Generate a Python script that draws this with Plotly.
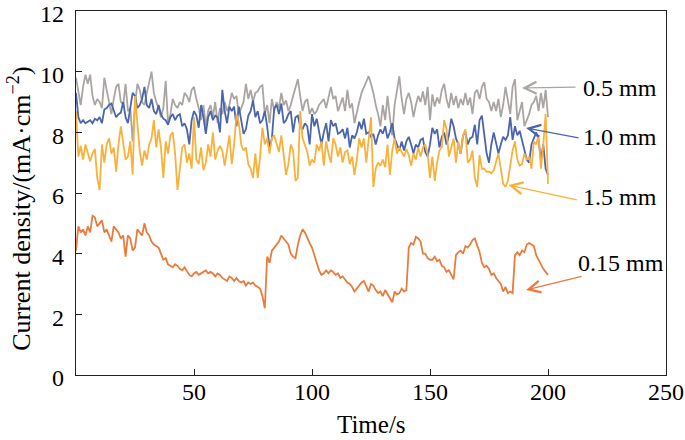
import plotly.graph_objects as go

time_s = list(range(0, 201))

# 0.5 mm (gray)
cd_05 = [
    9.8, 9.3, 8.9, 9.5, 9.9, 9.6, 9.9, 9.2, 8.9, 9.1,
    9.0, 8.8, 9.8, 9.4, 9.0, 8.6, 9.1, 9.5, 9.6, 9.0,
    8.9, 9.6, 8.7, 8.8, 7.7, 8.9, 9.6, 9.4, 9.0, 8.9,
    9.3, 9.7, 10.0, 9.3, 9.0, 8.8, 8.5, 8.8, 9.7, 8.3,
    8.6, 9.1, 8.9, 8.8, 9.0, 8.9, 9.3, 9.2, 9.0, 9.4,
    9.5, 9.1, 8.8, 8.4, 8.9, 8.2, 8.7, 8.9, 8.5, 9.0,
    8.3, 8.8, 8.6, 9.0, 8.7, 8.9, 9.3, 9.1, 9.2, 8.6,
    8.8, 9.0, 9.6, 9.1, 9.4, 9.0, 9.3, 9.35, 9.5, 9.55,
    8.6, 8.9, 8.3, 9.1, 8.7, 9.0, 8.8, 9.3, 8.9, 9.05,
    8.7, 8.9, 9.2, 9.5, 9.75, 9.2, 8.7, 9.0, 9.1, 8.6,
    8.8,
    8.6, 8.7, 8.9, 9.0, 9.1, 8.8, 9.2, 9.5, 9.1, 9.2,
    8.7, 8.9, 9.15, 8.7, 9.4, 8.8, 8.95, 8.3, 8.7, 9.0,
    9.3, 9.5, 9.7, 9.85, 9.6, 9.3, 8.9, 8.6, 8.2, 8.9,
    8.4, 9.2, 8.5, 7.9, 8.9, 9.4, 9.85, 9.1, 8.6, 9.1,
    9.3, 9.0, 8.5, 8.9, 9.2, 9.0, 9.35, 8.9, 9.5, 8.4,
    9.25, 8.85, 9.15, 8.95, 9.4, 9.6, 9.1, 8.8, 9.3, 8.9,
    9.2, 8.8, 9.1, 8.9, 9.3, 8.9, 9.15, 8.6, 9.3, 9.4,
    9.1, 9.5, 9.65, 9.1, 9.0, 8.7, 9.0, 8.7, 9.1, 8.5,
    8.9, 9.5, 9.0, 8.6, 9.5, 9.75, 8.4, 8.7, 9.0, 8.2,
    8.4, 8.6, 8.9, 9.0, 9.2, 8.7, 9.3, 8.8, 9.4, 8.5,
]

# 1.0 mm (blue)
cd_10 = [
    9.3, 8.5, 8.3, 8.4, 8.3, 8.35, 8.4, 8.3, 8.45, 8.4,
    8.5, 8.3, 8.75, 8.8, 8.9, 8.95, 8.7, 8.5, 8.6, 8.65,
    9.0, 8.5, 8.3, 8.8, 9.3, 9.2, 8.8, 8.9, 9.1, 9.5,
    8.9, 8.8, 9.1, 8.7, 8.6, 8.9, 8.6, 8.45, 8.4, 8.25,
    8.5, 8.6, 8.4, 8.55, 8.6, 8.2, 8.3, 8.1, 7.6, 8.4,
    8.7, 8.55, 8.15, 8.9, 8.5, 7.95, 8.5, 8.7, 8.4, 8.55,
    8.5, 8.0, 9.4, 8.7, 8.3, 8.85, 8.7, 8.85, 8.2, 8.85,
    8.4, 7.95, 8.1, 8.55, 8.7, 9.05, 8.5, 8.7, 8.3, 8.4,
    8.7, 8.2, 7.5, 7.8, 8.8, 8.9, 8.6, 8.95, 8.3, 8.4,
    8.6, 8.7, 8.0, 8.5, 8.55, 8.2, 8.1, 8.3, 8.2, 7.6,
    8.6,
    8.2, 8.45, 8.05, 7.6, 8.0, 8.3, 7.7, 8.4, 8.2, 8.3,
    7.95, 8.0, 8.1, 7.8, 8.15, 7.5, 7.9, 7.8, 8.0, 8.35,
    8.1, 8.45, 7.95, 8.0, 7.85, 7.95, 7.6, 7.9, 8.1, 7.95,
    8.2, 7.8, 8.0, 8.3, 7.8, 7.6, 7.4, 7.7, 7.4, 7.7,
    7.85, 7.6, 7.3, 7.6, 7.5, 7.75, 7.8, 7.35, 7.2, 7.6,
    8.15, 7.95, 8.1, 7.5, 7.85, 8.0, 7.6, 7.9, 8.45, 8.2,
    7.8, 7.6, 7.3, 7.9, 8.0, 7.6, 7.8, 7.85, 8.25, 7.6,
    8.4, 8.55, 7.9, 7.3, 7.0, 7.6, 8.0, 7.65, 7.3, 7.6,
    7.85, 7.75, 7.9, 8.5, 7.75, 8.2, 7.9, 8.05, 7.7, 7.4,
    7.1, 7.0, 7.6, 7.8, 8.0, 7.75, 7.1, 7.6, 6.8, 6.6,
]

# 1.5 mm (yellow)
cd_15 = [
    8.7, 7.2, 7.55, 7.1, 7.6, 7.3, 7.05, 7.3, 7.45, 6.5,
    6.1, 7.6, 7.0, 7.6, 7.8, 7.3, 7.5, 6.7, 7.6, 8.2,
    7.7, 7.1, 7.2, 7.7, 6.6, 9.2, 8.3, 7.4, 6.9, 7.4,
    7.1, 7.6, 7.8, 8.4, 7.5, 8.1, 7.5, 6.5, 7.7, 7.3,
    7.9, 8.0, 7.3, 6.1, 6.8, 7.5, 7.6, 7.0, 7.3, 6.8,
    8.5, 7.1, 6.95, 7.5, 6.75, 7.0, 7.6, 7.2, 8.0, 7.1,
    7.4, 7.55, 7.4, 6.9, 7.4, 7.9, 6.95, 7.6, 8.6, 8.3,
    7.6, 7.4, 7.5, 6.95, 6.8, 6.5, 7.3, 6.5, 7.2, 8.15,
    7.6, 7.8, 7.3, 7.8, 7.9, 7.6, 7.35, 7.9, 7.3, 6.6,
    6.95, 7.6, 7.4, 6.4, 6.5, 8.7, 7.8, 7.6, 7.35, 6.9,
    7.1,
    7.0, 7.6, 7.4, 7.7, 6.9, 7.7, 7.3, 7.0, 7.8, 7.6,
    7.2, 7.5, 7.0, 7.35, 7.4, 6.95, 7.2, 6.6, 7.1, 7.8,
    7.5, 7.8, 7.0, 7.75, 8.5, 6.2, 6.8, 7.0, 6.9, 7.1,
    6.85, 7.6, 6.6, 7.4, 7.8, 7.3, 7.5, 7.35, 7.2, 7.45,
    7.25, 6.9, 7.3, 7.1, 7.5, 7.2, 7.5, 7.6, 7.3, 6.5,
    7.2, 6.4, 7.0, 7.4, 7.5, 8.4, 8.1, 7.2, 7.5, 7.8,
    7.0, 7.7, 7.3, 7.9, 8.1, 7.0, 7.1, 7.4, 6.5, 6.2,
    7.25, 6.8, 6.8, 6.7, 6.7, 6.65, 6.75, 7.0, 7.3, 6.8,
    6.3, 6.2, 6.4, 6.9, 7.4, 7.7, 7.1, 6.9, 6.95, 7.3,
    7.1, 7.2, 6.8, 7.7, 7.6, 7.9, 6.8, 7.6, 8.6, 6.3,
]

# 0.15 mm (orange)
cd_015 = [
    4.1, 4.9, 4.7, 4.8, 4.6, 4.9, 4.7, 5.25, 5.2, 4.9,
    5.0, 5.1, 4.7, 4.8, 4.6, 4.4, 4.9, 4.8, 4.7, 4.5,
    4.6, 3.9, 4.6, 4.5, 4.1, 4.2, 4.8, 4.7, 4.6, 5.0,
    4.7, 4.6, 4.4, 4.3, 4.25, 4.2, 4.0, 3.8, 3.85, 3.65,
    3.6, 3.55, 3.65, 3.6, 3.5, 3.45, 3.55, 3.4, 3.3, 3.25,
    3.35, 3.4, 3.3, 3.35, 3.4, 3.45, 3.35, 3.4, 3.35, 3.25,
    3.35, 3.3, 3.2, 3.15, 3.1, 3.25, 3.2, 3.1, 3.2, 3.1,
    3.05, 3.1, 2.95, 3.05, 3.0, 3.05, 2.95, 2.9, 2.85, 2.6,
    2.2, 3.9, 3.7, 4.1, 4.2, 4.3, 4.4, 4.6, 4.5, 4.4,
    4.3, 4.0, 3.9, 3.85, 4.3, 4.6, 4.8, 4.7, 4.5, 4.35,
    4.2,
    3.95, 3.7, 3.45, 3.3, 3.35, 3.45, 3.35, 3.45, 3.4, 3.3,
    3.35, 3.2, 3.25, 3.15, 3.05, 3.0, 2.9, 2.75, 2.85, 2.95,
    3.05, 3.1, 2.95, 2.75, 3.0, 2.95, 2.8, 2.7, 2.75, 2.6,
    2.8, 2.65, 2.5, 2.4, 2.75, 2.65, 2.7, 2.85, 2.75, 2.8,
    4.2, 4.35, 4.3, 4.55, 4.5, 4.4, 4.0, 4.0, 3.85, 3.8,
    3.8, 3.9, 3.75, 3.8, 3.6, 3.55, 3.4, 3.45, 3.3, 3.15,
    3.95, 4.05, 4.1, 4.0, 4.25, 4.2, 4.3, 4.45, 4.5, 4.3,
    4.05, 3.7, 3.55, 3.6, 3.5, 3.3, 3.35, 3.2, 3.1, 3.0,
    2.75, 2.9, 2.7, 2.75, 2.7, 3.95, 4.05, 3.95, 4.1, 4.05,
    4.3, 4.35, 4.3, 4.25, 3.95, 3.8, 3.6, 3.5, 3.4, 3.3,
]

series_names = ["0.5 mm", "1.0 mm", "1.5 mm", "0.15 mm"]
series_values = [cd_05, cd_10, cd_15, cd_015]
series_colors = ["#aaa5a2", "#4a65ae", "#f9b13c", "#e97b3d"]

x_ticks = [50, 100, 150, 200, 250]
y_ticks = [0, 2, 4, 6, 8, 10, 12]

# label placement (data coords) and arrow tips (data coords) + tail offsets (px)
label_pos = {"0.5 mm": (214, 9.47), "1.0 mm": (214, 7.86), "1.5 mm": (214, 5.87), "0.15 mm": (212, 3.69)}
arrow_tip = {"0.5 mm": (189.0, 9.46), "1.0 mm": (190.7, 8.14), "1.5 mm": (183.2, 6.26), "0.15 mm": (190.7, 2.80)}
arrow_off = {"0.5 mm": (55, -1), "1.0 mm": (54, 10), "1.5 mm": (70, 15), "0.15 mm": (57, -14)}

FONT = "Liberation Serif"

fig = go.Figure()
for name, vals, color in zip(series_names, series_values, series_colors):
    fig.add_trace(go.Scatter(x=time_s, y=vals, mode="lines", name=name,
                             line=dict(color=color, width=1.8), showlegend=False))

annotations = []
for name, color in zip(series_names, series_colors):
    lx, ly = label_pos[name]
    annotations.append(dict(x=lx, y=ly, xref="x", yref="y", text=name, showarrow=False,
                            xanchor="left", yanchor="middle",
                            font=dict(family=FONT, size=24, color="black")))
    tx, ty = arrow_tip[name]
    ax, ay = arrow_off[name]
    annotations.append(dict(x=tx, y=ty, xref="x", yref="y", text="", showarrow=True,
                            ax=ax, ay=ay, arrowhead=5, arrowsize=1.8, arrowwidth=1.3,
                            arrowcolor=color))

annotations.append(dict(x=0.5, y=-0.137, xref="paper", yref="paper", text="Time/s",
                        showarrow=False, xanchor="center", yanchor="middle",
                        font=dict(family=FONT, size=25, color="black")))
annotations.append(dict(x=-0.097, y=0.456, xref="paper", yref="paper",
                        text="Current density/(mA·cm<sup>−2</sup>)", textangle=-90,
                        showarrow=False, xanchor="center", yanchor="middle",
                        font=dict(family=FONT, size=26, color="black")))

fig.update_layout(
    width=685, height=440,
    margin=dict(l=76, r=19, t=11, b=65, autoexpand=False),
    plot_bgcolor="white", paper_bgcolor="white",
    font=dict(family=FONT, size=24, color="black"),
    annotations=annotations,
)
axis_common = dict(ticks="inside", ticklen=6, tickwidth=1.2, tickcolor="#222",
                   showline=True, linecolor="#222", linewidth=1.2, mirror=True,
                   showgrid=False, zeroline=False,
                   ticklabeloverflow="allow", automargin=False,
                   tickfont=dict(family=FONT, size=24, color="black"))
fig.update_xaxes(range=[0, 250], tickvals=x_ticks, ticklabelstandoff=-5, **axis_common)
fig.update_yaxes(range=[0, 12], tickvals=y_ticks, ticklabelstandoff=6, ticklabelshift=3,
                 **axis_common)

fig.write_html("out.html", config={"displayModeBar": False},
               post_script="document.body.style.margin='0';document.body.style.overflow='hidden';")
